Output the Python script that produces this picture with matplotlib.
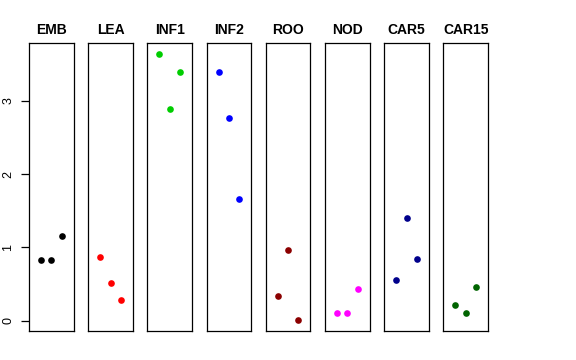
import matplotlib
matplotlib.use("Agg")
import matplotlib.pyplot as plt
import numpy as np

FIGX = 5.76
FIGY = 3.60
DPI = 100

## Data ---------------------------------------------

tissues = ["EMB", "LEA", "INF1", "INF2", "ROO", "NOD", "CAR5", "CAR15"]
colors = ["#000000", "#FF0000", "#00CD00", "#0000FF", "#8B0000", "#FF00FF", "#00008B", "#006400"]

emb = [0.83, 0.83, 1.16]
lea = [0.87, 0.52, 0.28]
inf1 = [3.64, 2.89, 3.40]
inf2 = [3.40, 2.77, 1.66]
roo = [0.34, 0.97, 0.005]
nod = [0.10, 0.10, 0.43]
car5 = [0.555, 1.40, 0.84]
car15 = [0.21, 0.11, 0.46]
values = [emb, lea, inf1, inf2, roo, nod, car5, car15]

yticks = [0, 1, 2, 3]

## Layout -------------------------------------------

LEFT0 = 29.0
PITCH = 59.2
WIDTH = 44.6
TOP = 43.3
BOTTOM = 331.0

allv = np.concatenate([np.array(v) for v in values])
rng = allv.max() - allv.min()
ylim = (allv.min() - 0.04 * rng, allv.max() + 0.04 * rng)

fig = plt.figure(figsize=(FIGX, FIGY), dpi=DPI)

## Main ---------------------------------------------

for i, (name, col, vals) in enumerate(zip(tissues, colors, values)):
    left = LEFT0 + i * PITCH
    ax = fig.add_axes([left / 576, (360 - BOTTOM) / 360, WIDTH / 576, (BOTTOM - TOP) / 360])
    xs = np.arange(1, len(vals) + 1)
    ax.plot(xs, vals, "o", color=col, markersize=4.8, markeredgewidth=0)
    ax.set_xlim(-0.16, 4.16)
    ax.set_ylim(*ylim)
    ax.set_xticks([])
    ax.set_title(name, fontsize=10, fontweight="bold", pad=6.5, family="Liberation Sans")
    for sp in ax.spines.values():
        sp.set_linewidth(0.9)
    if i == 0:
        ax.set_yticks(yticks)
        ax.set_yticklabels([str(t) for t in yticks], rotation=90, va="center",
                           fontsize=9, family="Liberation Sans")
        ax.tick_params(axis="y", length=5.5, width=0.9, pad=5)
    else:
        ax.set_yticks([])

fig.savefig("out.png", dpi=DPI)
